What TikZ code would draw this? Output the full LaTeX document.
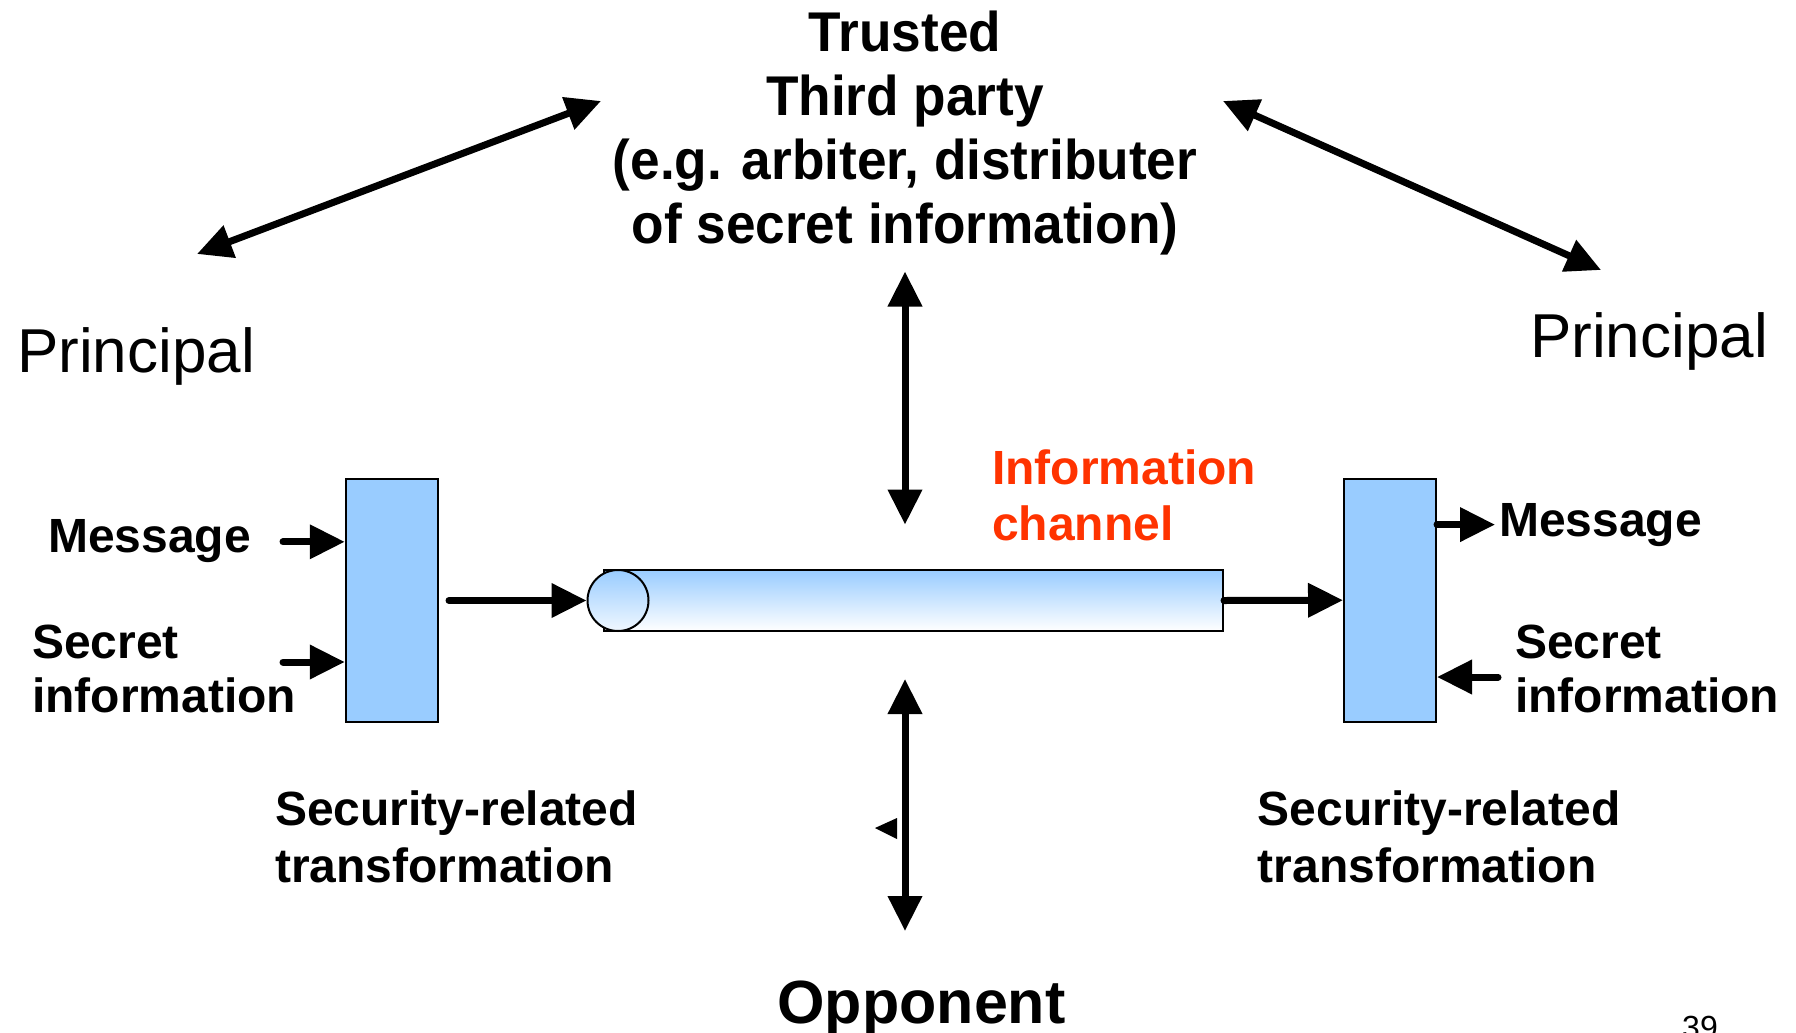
\documentclass[tikz,border=0pt]{standalone}
\usepackage{fontspec}
\setmainfont{Liberation Sans}
\newfontfamily\ttpfont[FakeStretch=0.95]{Liberation Sans}
\usetikzlibrary{arrows.meta,shapes.geometric}
\definecolor{boxblue}{HTML}{99CCFF}
\definecolor{chanred}{HTML}{FF3300}
\begin{document}
\begin{tikzpicture}[x=1pt,y=-1pt,
  bigarrow/.style={line width=7pt, line cap=round, -{Triangle[length=35pt,width=33pt]}},
  dblarrow/.style={line width=7pt, {Triangle[length=35pt,width=33pt]}-{Triangle[length=35pt,width=33pt]}},
  tbox/.style={draw, line width=2pt, fill=boxblue, minimum width=92pt, minimum height=243pt, inner sep=0pt},
  lbl/.style={inner sep=0pt, anchor=base west, align=left},
  lblbold/.style={lbl, font=\bfseries\fontsize{48}{#1}\selectfont},
  lblbold/.default=56,
  princ/.style={lbl, font=\fontsize{62}{70}\selectfont}
]
\useasboundingbox (0,0) rectangle (1796,1033);

% transformation boxes
\node[tbox] (lbox) at (391.75,600.3) {};
\node[tbox] (rbox) at (1390,600.2) {};

% information channel (cylinder)
\node[draw, line width=2pt, top color=boxblue, bottom color=white, minimum width=619pt, minimum height=61pt, inner sep=0pt] (chan) at (913.5,600.5) {};
\node[ellipse, draw, line width=2pt, top color=boxblue, bottom color=white!85!boxblue, minimum width=61pt, minimum height=61pt, inner sep=0pt] (cend) at (618,600.5) {};

% flow arrows
\coordinate (inT) at (449,600.5);
\draw[bigarrow] (inT) -- (cend.west);
\draw[bigarrow] (chan.east) -- (rbox.west);

\coordinate (lmT) at (283,541.8);
\draw[bigarrow] (lmT) -- (lmT -| lbox.west);
\coordinate (lsT) at (283,662);
\draw[bigarrow] (lsT) -- (lsT -| lbox.west);

\coordinate (rmH) at (1495,524.6);
\draw[bigarrow] (rmH -| rbox.east) -- (rmH);
\coordinate (rsT) at (1498,677);
\draw[bigarrow] (rsT) -- (rsT -| rbox.east);

% vertical double arrows
\coordinate (vt1) at (905,271.5);
\coordinate (vt2) at (905,524.6);
\draw[dblarrow] (vt1) -- (vt2);
\coordinate (vb1) at (905,679);
\coordinate (vb2) at (905,931);
\draw[dblarrow] (vb1) -- (vb2);

% diagonal double arrows
\coordinate (dl1) at (197,254);
\coordinate (dl2) at (601,101);
\draw[dblarrow] (dl1) -- (dl2);
\coordinate (dr1) at (1223,101);
\coordinate (dr2) at (1601,270);
\draw[dblarrow] (dr1) -- (dr2);

% small stray arrowhead
\fill (875,828) -- (897,818) -- (897,839) -- cycle;

% texts (base anchor of multi-line nodes = last line)
\node[anchor=base, align=center, inner sep=0pt, font=\ttpfont\bfseries\fontsize{56}{64}\selectfont] (ttp) at (905,243)
  {Trusted\\Third party\\(e.g. arbiter, distributer\\of secret information)};
\node[princ] (pl) at (17,372) {Principal};
\node[princ] (pr) at (1530,357) {Principal};
\node[lblbold] (ml) at (48,552) {Message};
\node[lblbold=54] (sl) at (32,712.5) {Secret\\information};
\node[lblbold] (mr) at (1499,536) {Message};
\node[lblbold=54] (sr) at (1515,712.5) {Secret\\information};
\node[lblbold=57] (tl) at (275,882) {Security-related\\transformation};
\node[lblbold=57] (tr) at (1257.6,882) {Security-related\\transformation};
\node[lblbold=56, text=chanred] (ic) at (992,540.6) {Information\\channel};
\node[anchor=base, inner sep=0pt, font=\bfseries\fontsize{61}{70}\selectfont] (opp) at (921.5,1023) {Opponent};
\node[lbl, font=\fontsize{32}{38}\selectfont] (pg) at (1682,1038) {39};
\end{tikzpicture}
\end{document}
